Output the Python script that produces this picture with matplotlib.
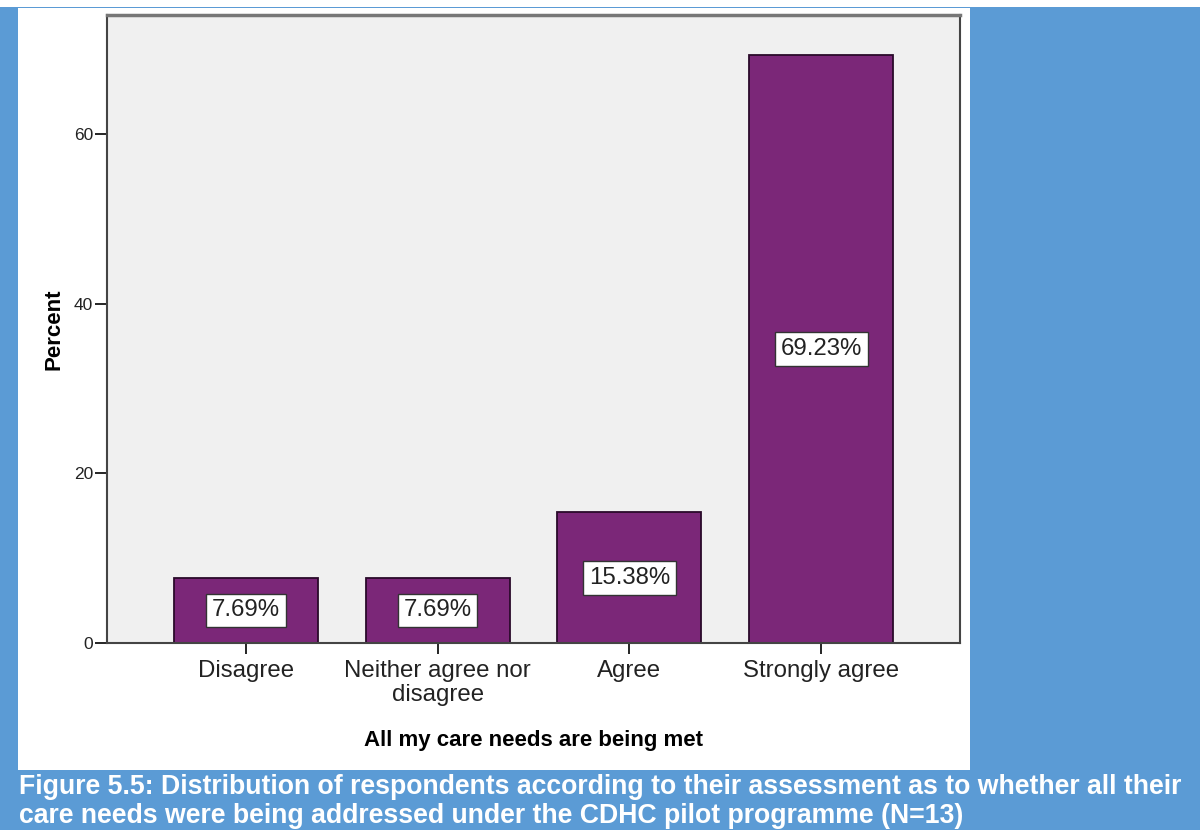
import matplotlib
matplotlib.use("Agg")
import matplotlib.pyplot as plt
from matplotlib.patches import Rectangle

plt.rcParams['font.family'] = ['Liberation Sans', 'DejaVu Sans']

# Survey answers and percentages (N=13)
categories = ['Disagree', 'Neither agree nor\ndisagree', 'Agree', 'Strongly agree']
percent = [7.69, 7.69, 15.38, 69.23]
bar_labels = ['7.69%', '7.69%', '15.38%', '69.23%']
y_ticks = [0, 20, 40, 60]

page_blue = '#5B9BD5'
bar_purple = '#7B2778'
plot_grey = '#F0F0F0'

fig = plt.figure(figsize=(12, 8.3), dpi=100)
W, H = 1200, 830

# page background: thin white strip on top, blue below, white chart panel
fig.patches.append(Rectangle((0, 0), 1, 1 - 7 / H, transform=fig.transFigure,
                             facecolor=page_blue, edgecolor='none', zorder=-3))
fig.patches.append(Rectangle((18 / W, 1 - 770 / H), (970 - 18) / W, (770 - 8) / H,
                             transform=fig.transFigure, facecolor='white',
                             edgecolor='none', zorder=-2))

ax = fig.add_axes([107 / W, 1 - 643 / H, (960 - 107) / W, (643 - 15) / H])
ax.set_facecolor(plot_grey)

x = range(len(categories))
ax.bar(x, percent, width=0.75, color=bar_purple, edgecolor='#2a0a2a', linewidth=1.3, zorder=2)

for xi, val, lab in zip(x, percent, bar_labels):
    ax.text(xi, val / 2, lab, ha='center', va='center', fontsize=17.3, color='#222222', zorder=3,
            bbox=dict(boxstyle='square,pad=0.24', facecolor='white', edgecolor='#333333', linewidth=1.0))

ax.set_xlim(-0.724, 3.724)
ax.set_ylim(0, 74)
ax.set_yticks(y_ticks)
ax.set_yticklabels([str(t) for t in y_ticks], fontsize=12.5, color='#222222')
ax.set_xticks(list(x))
ax.set_xticklabels(categories, fontsize=17.3, color='#222222', linespacing=1.15)
ax.tick_params(axis='y', length=9, width=1.2, pad=1)
ax.tick_params(axis='x', length=8, width=1.2, pad=4)

for side in ['left', 'bottom', 'right', 'top']:
    ax.spines[side].set_color('#444444')
    ax.spines[side].set_linewidth(1.5)
ax.spines['top'].set_color('#777777')
ax.spines['top'].set_linewidth(2.5)

ax.set_ylabel('Percent', fontsize=16, fontweight='bold', labelpad=7)
ax.set_xlabel('All my care needs are being met', fontsize=16, fontweight='bold', labelpad=17)

# figure caption in the blue band
caption = ['Figure 5.5: Distribution of respondents according to their assessment as to whether all their',
           'care needs were being addressed under the CDHC pilot programme (N=13)']
for line, ypix in zip(caption, [787, 816]):
    fig.text(19 / W, 1 - ypix / H, line, color='white', fontsize=19.2,
             fontweight='bold', ha='left', va='center')

fig.savefig('out.png', dpi=100)
